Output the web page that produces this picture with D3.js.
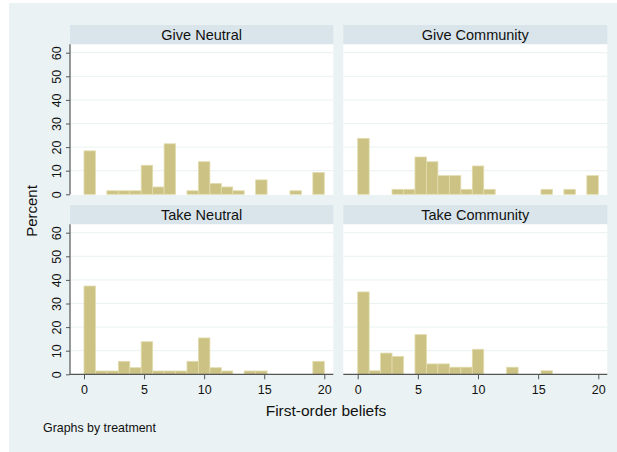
<!DOCTYPE html>
<html>
<head>
<meta charset="utf-8">
<script src="https://cdn.jsdelivr.net/npm/d3@7"></script>
<style>
  body { margin: 0; background: #ffffff; }
  text { font-family: "Liberation Sans", Arial, sans-serif; fill: #111; }
</style>
</head>
<body>
<svg id="chart" width="617" height="452"></svg>
<script>
// percent of subjects per bin (21 bins over 0..20)
var panelTitles = ["Give Neutral", "Give Community", "Take Neutral", "Take Community"];
var giveNeutral   = [18.4, 0, 1.5, 1.5, 1.5, 12.3, 3.1, 21.4, 0, 1.5, 13.8, 4.6, 3.1, 1.5, 0, 6.1, 0, 0, 1.5, 0, 9.2];
var giveCommunity = [23.7, 0, 0, 2.1, 2.1, 15.8, 13.8, 7.9, 7.9, 2.1, 12.0, 2.1, 0, 0, 0, 0, 2.1, 0, 2.1, 0, 7.9];
var takeNeutral   = [37.4, 1.4, 1.4, 5.5, 2.8, 13.8, 1.4, 1.4, 1.4, 5.5, 15.4, 2.8, 1.4, 0, 1.4, 1.4, 0, 0, 0, 0, 5.5];
var takeCommunity = [34.9, 1.5, 9.0, 7.6, 0, 16.8, 4.4, 4.4, 3.0, 3.0, 10.6, 0, 0, 3.0, 0, 0, 1.5, 0, 0, 0, 0];
var xTicks = [0, 5, 10, 15, 20];
var yTicks = [0, 10, 20, 30, 40, 50, 60];

var allData = [giveNeutral, giveCommunity, takeNeutral, takeCommunity];
var nBins = 21;
var binW = 20 / nBins;

var svg = d3.select("#chart");

// outer graph region
svg.append("rect")
  .attr("x", 9).attr("y", 3)
  .attr("width", 608).attr("height", 449)
  .attr("fill", "#eaf2f3");

// panel boxes: left/right of plot area, strip top, baseline
var cols = [{left: 70, right: 333.3, x0: 84, x20: 324.3},
            {left: 343.3, right: 607.3, x0: 357.7, x20: 598.3}];
var rows = [{strip: 25, top: 44.3, base: 194.3},
            {strip: 205, top: 224.3, base: 374.3}];

allData.forEach(function(vals, i){
  var c = cols[i % 2], r = rows[Math.floor(i / 2)];
  var x = d3.scaleLinear().domain([0, 20]).range([c.x0, c.x20]);
  var y = d3.scaleLinear().domain([0, 60]).range([r.base, r.base - 141.6]);
  var g = svg.append("g");

  // strip
  g.append("rect")
    .attr("x", c.left).attr("y", r.strip)
    .attr("width", c.right - c.left).attr("height", r.top - r.strip)
    .attr("fill", "#d9e5eb");
  g.append("text")
    .attr("x", (c.left + c.right) / 2).attr("y", r.strip + 15)
    .attr("text-anchor", "middle")
    .attr("font-size", 14.5)
    .text(panelTitles[i]);

  // plot area
  g.append("rect")
    .attr("x", c.left).attr("y", r.top)
    .attr("width", c.right - c.left).attr("height", r.base - r.top + 0.7)
    .attr("fill", "#ffffff");

  // grid
  g.selectAll(".grid")
    .data(yTicks.slice(1))
    .enter().append("line")
    .attr("x1", c.left).attr("x2", c.right)
    .attr("y1", function(d){ return y(d); })
    .attr("y2", function(d){ return y(d); })
    .attr("stroke", "#eaf2f3").attr("stroke-width", 1);

  // bars
  var bins = vals.map(function(v, k){ return {k: k, v: v}; })
    .filter(function(d){ return d.v > 0; });
  g.selectAll(".bar")
    .data(bins)
    .enter().append("rect")
    .attr("x", function(d){ return x(d.k * binW); })
    .attr("width", x(binW) - x(0))
    .attr("y", function(d){ return y(d.v); })
    .attr("height", function(d){ return y(0) - y(d.v); })
    .attr("fill", "#cbc283")
    .attr("stroke", "#e2dcae")
    .attr("stroke-width", 0.8);

  // y axis on left column
  if (i % 2 === 0) {
    var ya = g.append("g")
      .attr("transform", "translate(" + c.left + ",0)")
      .call(d3.axisLeft(y).tickValues(yTicks).tickSize(4));
    ya.select(".domain").remove();
    ya.append("line")
      .attr("x1", 0).attr("x2", 0)
      .attr("y1", r.top).attr("y2", r.base)
      .attr("stroke", "#555").attr("stroke-width", 1.2);
    ya.selectAll(".tick line").attr("stroke", "#555");
    ya.selectAll(".tick text")
      .attr("font-size", 12.5)
      .attr("font-family", "Liberation Sans, Arial, sans-serif")
      .attr("fill", "#111")
      .attr("text-anchor", "middle")
      .attr("transform", "rotate(-90)")
      .attr("x", 0)
      .attr("y", -9.5)
      .attr("dy", 0);
  }

  // x axis on bottom row
  if (i >= 2) {
    var xa = g.append("g")
      .attr("transform", "translate(0," + r.base + ")")
      .call(d3.axisBottom(x).tickValues(xTicks).tickSize(5).tickPadding(6));
    xa.select(".domain").remove();
    xa.append("line")
      .attr("x1", c.left).attr("x2", c.right)
      .attr("stroke", "#555").attr("stroke-width", 1.2);
    xa.selectAll(".tick line").attr("stroke", "#555");
    xa.selectAll(".tick text")
      .attr("font-size", 12.5)
      .attr("font-family", "Liberation Sans, Arial, sans-serif")
      .attr("fill", "#111");
  }
});

// axis titles
svg.append("text")
  .attr("transform", "translate(37,211) rotate(-90)")
  .attr("text-anchor", "middle")
  .attr("font-size", 15)
  .text("Percent");

svg.append("text")
  .attr("x", 326).attr("y", 416)
  .attr("text-anchor", "middle")
  .attr("font-size", 15.5)
  .text("First-order beliefs");

svg.append("text")
  .attr("x", 43).attr("y", 432)
  .attr("font-size", 12.4)
  .text("Graphs by treatment");
</script>
</body>
</html>
